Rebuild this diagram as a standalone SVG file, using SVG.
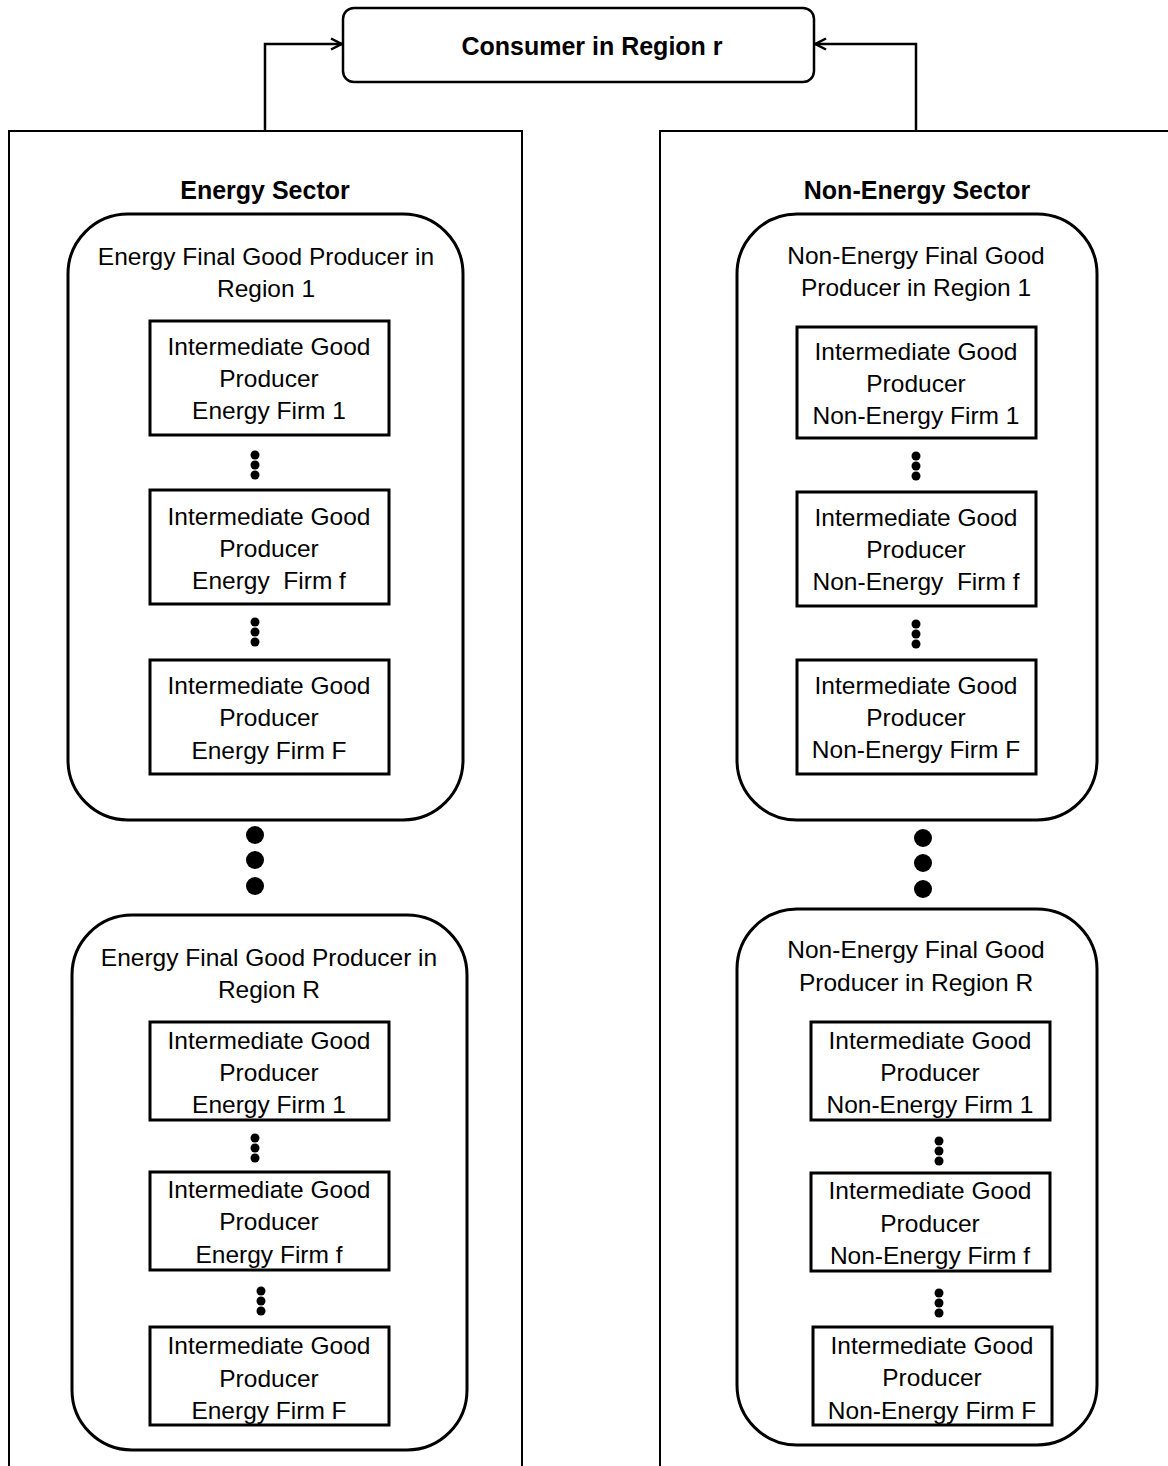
<svg xmlns="http://www.w3.org/2000/svg" width="1168" height="1466" viewBox="0 0 1168 1466">
<defs>
<style>
.t{font-family:"Liberation Sans",Arial,sans-serif;font-size:24.5px;fill:#000;text-anchor:middle}
.b{font-family:"Liberation Sans",Arial,sans-serif;font-size:25px;font-weight:bold;fill:#000;text-anchor:middle}
.sec{fill:none;stroke:#000;stroke-width:2}
.fg{fill:#fff;stroke:#000;stroke-width:3}
.ib{fill:#fff;stroke:#000;stroke-width:3}
.con{fill:none;stroke:#000;stroke-width:2.5}
.d{fill:#000}
</style>
<marker id="arr" viewBox="0 0 14 14" refX="13" refY="7" markerWidth="14" markerHeight="14" markerUnits="userSpaceOnUse" orient="auto">
<path d="M2,1.5 L12.5,7 L2,12.5" fill="none" stroke="#000" stroke-width="2.5"/>
</marker>
</defs>
<rect width="1168" height="1466" fill="#fff"/>

<g id="connectors">
<path class="con" d="M265,131 V44 H342" marker-end="url(#arr)"/>
<path class="con" d="M916,131 V44 H815" marker-end="url(#arr)"/>
</g>

<g id="consumer">
<rect x="343" y="8" width="471" height="74" rx="11" fill="#fff" stroke="#000" stroke-width="2.5"/>
<text class="b" x="592" y="55">Consumer in Region r</text>
</g>

<g id="energy-sector">
<path class="sec" d="M9,1470 V131 H522 V1470"/>
<text class="b" x="265" y="199">Energy Sector</text>
</g>

<g id="non-energy-sector">
<path class="sec" d="M660,1470 V131 H1175"/>
<text class="b" x="917" y="199">Non-Energy Sector</text>
</g>

<g id="energy-region-1">
<rect class="fg" x="68" y="214" width="395" height="606" rx="60"/>
<text class="t" x="266" y="265">Energy Final Good Producer in</text>
<text class="t" x="266" y="297">Region 1</text>
</g>
<g id="e1-firm-1">
<rect class="ib" x="150" y="321" width="239" height="114"/>
<text class="t" x="269" y="355">Intermediate Good</text>
<text class="t" x="269" y="387">Producer</text>
<text class="t" x="269" y="419">Energy Firm 1</text>
</g>
<g id="e1-firm-f">
<rect class="ib" x="150" y="490" width="239" height="114"/>
<text class="t" x="269" y="525">Intermediate Good</text>
<text class="t" x="269" y="557">Producer</text>
<text class="t" x="269" y="589" xml:space="preserve">Energy  Firm f</text>
</g>
<g id="e1-firm-F">
<rect class="ib" x="150" y="660" width="239" height="114"/>
<text class="t" x="269" y="694">Intermediate Good</text>
<text class="t" x="269" y="726">Producer</text>
<text class="t" x="269" y="759">Energy Firm F</text>
</g>
<g id="e1-dots">
<circle class="d" cx="255" cy="455" r="4.5"/><circle class="d" cx="255" cy="465" r="4.5"/><circle class="d" cx="255" cy="475" r="4.5"/>
<circle class="d" cx="255" cy="622" r="4.5"/><circle class="d" cx="255" cy="632" r="4.5"/><circle class="d" cx="255" cy="642" r="4.5"/>
</g>
<g id="e-region-dots">
<circle class="d" cx="255" cy="835" r="9"/><circle class="d" cx="255" cy="860" r="9"/><circle class="d" cx="255" cy="886" r="9"/>
</g>

<g id="energy-region-R">
<rect class="fg" x="72" y="915" width="395" height="535" rx="60"/>
<text class="t" x="269" y="966">Energy Final Good Producer in</text>
<text class="t" x="269" y="998">Region R</text>
</g>
<g id="eR-firm-1">
<rect class="ib" x="150" y="1022" width="239" height="98"/>
<text class="t" x="269" y="1049">Intermediate Good</text>
<text class="t" x="269" y="1081">Producer</text>
<text class="t" x="269" y="1113">Energy Firm 1</text>
</g>
<g id="eR-firm-f">
<rect class="ib" x="150" y="1172" width="239" height="98"/>
<text class="t" x="269" y="1198">Intermediate Good</text>
<text class="t" x="269" y="1230">Producer</text>
<text class="t" x="269" y="1263">Energy Firm f</text>
</g>
<g id="eR-firm-F">
<rect class="ib" x="150" y="1327" width="239" height="98"/>
<text class="t" x="269" y="1354">Intermediate Good</text>
<text class="t" x="269" y="1387">Producer</text>
<text class="t" x="269" y="1419">Energy Firm F</text>
</g>
<g id="eR-dots">
<circle class="d" cx="255" cy="1138" r="4.5"/><circle class="d" cx="255" cy="1148" r="4.5"/><circle class="d" cx="255" cy="1158" r="4.5"/>
<circle class="d" cx="261" cy="1291" r="4.5"/><circle class="d" cx="261" cy="1301" r="4.5"/><circle class="d" cx="261" cy="1311" r="4.5"/>
</g>

<g id="nonenergy-region-1">
<rect class="fg" x="737" y="214" width="360" height="606" rx="60"/>
<text class="t" x="916" y="264">Non-Energy Final Good</text>
<text class="t" x="916" y="296">Producer in Region 1</text>
</g>
<g id="n1-firm-1">
<rect class="ib" x="797" y="327" width="239" height="111"/>
<text class="t" x="916" y="360">Intermediate Good</text>
<text class="t" x="916" y="392">Producer</text>
<text class="t" x="916" y="424">Non-Energy Firm 1</text>
</g>
<g id="n1-firm-f">
<rect class="ib" x="797" y="492" width="239" height="114"/>
<text class="t" x="916" y="526">Intermediate Good</text>
<text class="t" x="916" y="558">Producer</text>
<text class="t" x="916" y="590" xml:space="preserve">Non-Energy  Firm f</text>
</g>
<g id="n1-firm-F">
<rect class="ib" x="797" y="660" width="239" height="114"/>
<text class="t" x="916" y="694">Intermediate Good</text>
<text class="t" x="916" y="726">Producer</text>
<text class="t" x="916" y="758">Non-Energy Firm F</text>
</g>
<g id="n1-dots">
<circle class="d" cx="916" cy="456" r="4.5"/><circle class="d" cx="916" cy="466" r="4.5"/><circle class="d" cx="916" cy="476" r="4.5"/>
<circle class="d" cx="916" cy="624" r="4.5"/><circle class="d" cx="916" cy="634" r="4.5"/><circle class="d" cx="916" cy="644" r="4.5"/>
</g>
<g id="n-region-dots">
<circle class="d" cx="923" cy="838" r="9"/><circle class="d" cx="923" cy="863" r="9"/><circle class="d" cx="923" cy="889" r="9"/>
</g>

<g id="nonenergy-region-R">
<rect class="fg" x="737" y="909" width="360" height="536" rx="60"/>
<text class="t" x="916" y="958">Non-Energy Final Good</text>
<text class="t" x="916" y="991">Producer in Region R</text>
</g>
<g id="nR-firm-1">
<rect class="ib" x="811" y="1022" width="239" height="98"/>
<text class="t" x="930" y="1049">Intermediate Good</text>
<text class="t" x="930" y="1081">Producer</text>
<text class="t" x="930" y="1113">Non-Energy Firm 1</text>
</g>
<g id="nR-firm-f">
<rect class="ib" x="811" y="1173" width="239" height="98"/>
<text class="t" x="930" y="1199">Intermediate Good</text>
<text class="t" x="930" y="1232">Producer</text>
<text class="t" x="930" y="1264">Non-Energy Firm f</text>
</g>
<g id="nR-firm-F">
<rect class="ib" x="813" y="1327" width="239" height="98"/>
<text class="t" x="932" y="1354">Intermediate Good</text>
<text class="t" x="932" y="1386">Producer</text>
<text class="t" x="932" y="1419">Non-Energy Firm F</text>
</g>
<g id="nR-dots">
<circle class="d" cx="939" cy="1141" r="4.5"/><circle class="d" cx="939" cy="1151" r="4.5"/><circle class="d" cx="939" cy="1161" r="4.5"/>
<circle class="d" cx="939" cy="1293" r="4.5"/><circle class="d" cx="939" cy="1303" r="4.5"/><circle class="d" cx="939" cy="1313" r="4.5"/>
</g>
</svg>
